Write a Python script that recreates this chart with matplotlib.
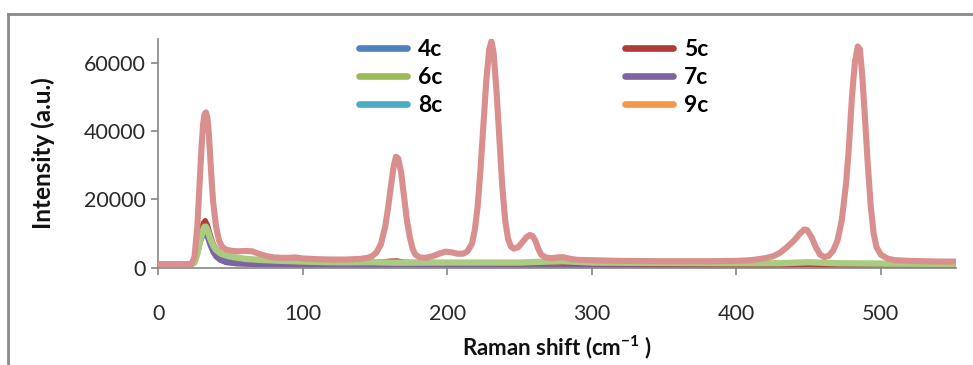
import matplotlib
matplotlib.use("Agg")
import matplotlib.pyplot as plt
from matplotlib.lines import Line2D

plt.rcParams['font.family'] = ['Lato', 'DejaVu Sans']
plt.rcParams['axes.unicode_minus'] = False

# ---- data ----
pink_x = [0, 10, 20, 23, 25, 27, 29, 30, 31, 32, 33, 34, 35, 36, 37, 38, 40, 42, 44, 47,
          50, 55, 60, 65, 70, 75, 80, 85, 90, 95, 100, 110, 120, 130, 140, 145, 148, 151,
          154, 157, 159, 161, 163, 164.5, 166, 168, 170, 172, 174, 176, 178, 181, 185, 190,
          195, 199, 203, 207, 211, 214, 217, 219, 221, 223, 225, 227, 229, 230.5, 232, 234,
          236, 238, 240, 242, 244, 246, 249, 252, 255, 257, 259, 261, 263, 265, 268, 272,
          276, 280, 285, 290, 300, 320, 350, 380, 400, 410, 420, 425, 430, 435, 440, 444,
          447, 449, 452, 455, 458, 461, 464, 467, 470, 473, 476, 478, 480, 482, 484, 485.5,
          487, 489, 491, 493, 495, 497, 500, 505, 510, 520, 530, 540, 552]
pink_y = [1000, 1000, 1000, 1200, 3000, 12000, 28000, 36000, 42000, 45000, 45500, 44000,
          39000, 32000, 25000, 19000, 12000, 8000, 6200, 5300, 5000, 4800, 4900, 4800, 4000,
          3400, 3000, 2900, 2900, 3000, 2700, 2500, 2400, 2400, 2600, 2900, 3400, 4500, 6800,
          12000, 17500, 24000, 30000, 32500, 32000, 28000, 21000, 14000, 9000, 5500, 3800,
          3000, 2900, 3400, 4200, 4700, 4500, 4100, 4100, 4800, 7000, 11000, 18000, 29000,
          42000, 55000, 64000, 66300, 63000, 52000, 38000, 24000, 14000, 8500, 6200, 5600,
          6000, 7500, 9000, 9600, 9300, 7800, 5500, 3800, 3000, 2800, 3000, 3100, 2600, 2300,
          2200, 2000, 1900, 1900, 2000, 2200, 2800, 3300, 4300, 6000, 8000, 10000, 11200,
          11000, 9000, 6000, 3800, 3100, 3500, 5000, 8000, 14000, 25000, 36000, 50000, 60000,
          64800, 64000, 57000, 44000, 30000, 18000, 10000, 6000, 3800, 2600, 2200, 2000, 1900,
          1800, 1800]

s4c_x = [0, 23, 25, 27, 29, 31, 32.5, 34, 36, 38, 40, 43, 47, 55, 70, 100, 552]
s4c_y = [1000, 1000, 1500, 4000, 7500, 9500, 10000, 9000, 6500, 4500, 3200, 2200, 1700, 1300, 1100, 1000, 1000]

s5c_x = [0, 23, 25, 27, 29, 31, 32.5, 34, 36, 38, 40, 43, 47, 52, 60, 80, 100, 150, 160,
         165, 170, 200, 250, 275, 300, 400, 450, 552]
s5c_y = [1000, 1000, 1800, 5000, 10000, 13000, 13800, 12500, 9500, 7000, 5500, 4300, 3500,
         3000, 2500, 2000, 1700, 1500, 1900, 2000, 1600, 1300, 1200, 1600, 1200, 1000, 1000, 1000]

s6c_x = [0, 20, 23, 25, 27, 29, 31, 32, 33, 34, 36, 38, 40, 43, 47, 52, 60, 70, 80, 100,
         120, 150, 160, 200, 250, 270, 280, 290, 300, 400, 430, 450, 470, 500, 552]
s6c_y = [1000, 1000, 1000, 1500, 4000, 8000, 11000, 12000, 12000, 11000, 8500, 6500, 5200,
         4200, 3600, 3100, 2600, 2300, 2100, 1800, 1600, 1600, 1500, 1500, 1500, 1800, 1900,
         1700, 1500, 1300, 1300, 1600, 1300, 1200, 1100]

s7c_x = [0, 23, 25, 27, 29, 31, 32.5, 34, 36, 38, 40, 43, 47, 55, 70, 100, 430, 445, 460, 552]
s7c_y = [1000, 1000, 1600, 4500, 8000, 10000, 10500, 9400, 6800, 4700, 3300, 2200, 1500,
         1100, 900, 800, 800, 1100, 800, 800]

s8c_x = [0, 23, 25, 27, 29, 31, 32.5, 34, 36, 38, 40, 43, 47, 55, 70, 100, 552]
s8c_y = [1000, 1000, 1600, 4500, 8500, 10500, 11000, 10000, 7500, 5500, 4000, 3000, 2300,
         1800, 1400, 1100, 1000]

s9c_x = [0, 23, 25, 27, 29, 31, 32.5, 34, 36, 38, 40, 43, 47, 55, 70, 100, 552]
s9c_y = [1000, 1000, 1500, 4200, 8000, 10000, 10800, 9800, 7200, 5200, 3800, 2700, 2000,
         1500, 1100, 900, 800]

x_ticks = [0, 100, 200, 300, 400, 500]
y_ticks = [0, 20000, 40000, 60000]

# ---- figure ----
fig = plt.figure(figsize=(9.73, 3.65), dpi=100)
ax = fig.add_axes([158.3 / 973, 1 - 267.7 / 365, (956 - 158.3) / 973, (267.7 - 39) / 365])

lw = 3.8
series = [
    ("4c", s4c_x, s4c_y, "#4f81bd"),
    ("6c", s6c_x, s6c_y, "#9bbb59"),
    ("8c", s8c_x, s8c_y, "#4bacc6"),
    ("5c", s5c_x, s5c_y, "#b03c3a"),
    ("7c", s7c_x, s7c_y, "#7f63a1"),
    ("9c", s9c_x, s9c_y, "#f79646"),
]
draw_order = ["9c", "8c", "4c", "7c", "5c", "6c"]
handles = {}
lookup = {s[0]: s for s in series}
for name in draw_order:
    _, xs, ys, col = lookup[name]
    c = "#a9cc80" if name == "6c" else col
    ax.plot(xs, ys, color=c, lw=lw if name != "6c" else 4.6,
            solid_capstyle='round', solid_joinstyle='round')
    handles[name] = Line2D([0], [0], color=col, lw=4.8, solid_capstyle='round')

ax.plot(pink_x, pink_y, color="#d98f8d", lw=4.4, solid_capstyle='round',
        solid_joinstyle='round', zorder=3)

ax.set_xlim(0, 552)
ax.set_ylim(0, 67000)
ax.set_xticks(x_ticks)
ax.set_yticks(y_ticks)
ax.set_xticklabels([str(v) for v in x_ticks])
ax.set_yticklabels([str(v) for v in y_ticks])

for side in ("top", "right"):
    ax.spines[side].set_visible(False)
for side in ("left", "bottom"):
    ax.spines[side].set_color("#868686")
    ax.spines[side].set_linewidth(1.2)
ax.tick_params(axis='both', colors="#868686", labelcolor="#2a2a2a", labelsize=15.5,
               length=5, width=1.2, direction='out')
ax.tick_params(axis='x', pad=21)
ax.tick_params(axis='y', pad=4)

ax.set_xlabel("Raman shift (cm$^{\\mathregular{-1}}$ )", fontsize=16, fontweight='bold',
              color="#111111", labelpad=7)
ax.set_ylabel("Intensity (a.u.)", fontsize=17.5, fontweight='bold', color="#111111",
              labelpad=21)

order = ["4c", "6c", "8c", "5c", "7c", "9c"]
leg = ax.legend([handles[n] for n in order], order, ncol=2, frameon=False,
                loc='upper left', bbox_to_anchor=(0.226, 1.09),
                prop={'weight': 'bold', 'size': 16.5}, handlelength=2.1,
                handletextpad=0.45, columnspacing=8.0, labelspacing=0.3)

# outer frame (top and left edges)
fig.add_artist(Line2D([8 / 973, 1.0], [1 - 14 / 365, 1 - 14 / 365], color="#8a8a8a", lw=2,
                      transform=fig.transFigure))
fig.add_artist(Line2D([8 / 973, 8 / 973], [0, 1 - 14 / 365], color="#8a8a8a", lw=2,
                      transform=fig.transFigure))

fig.savefig("out.png", dpi=100, facecolor="white")
